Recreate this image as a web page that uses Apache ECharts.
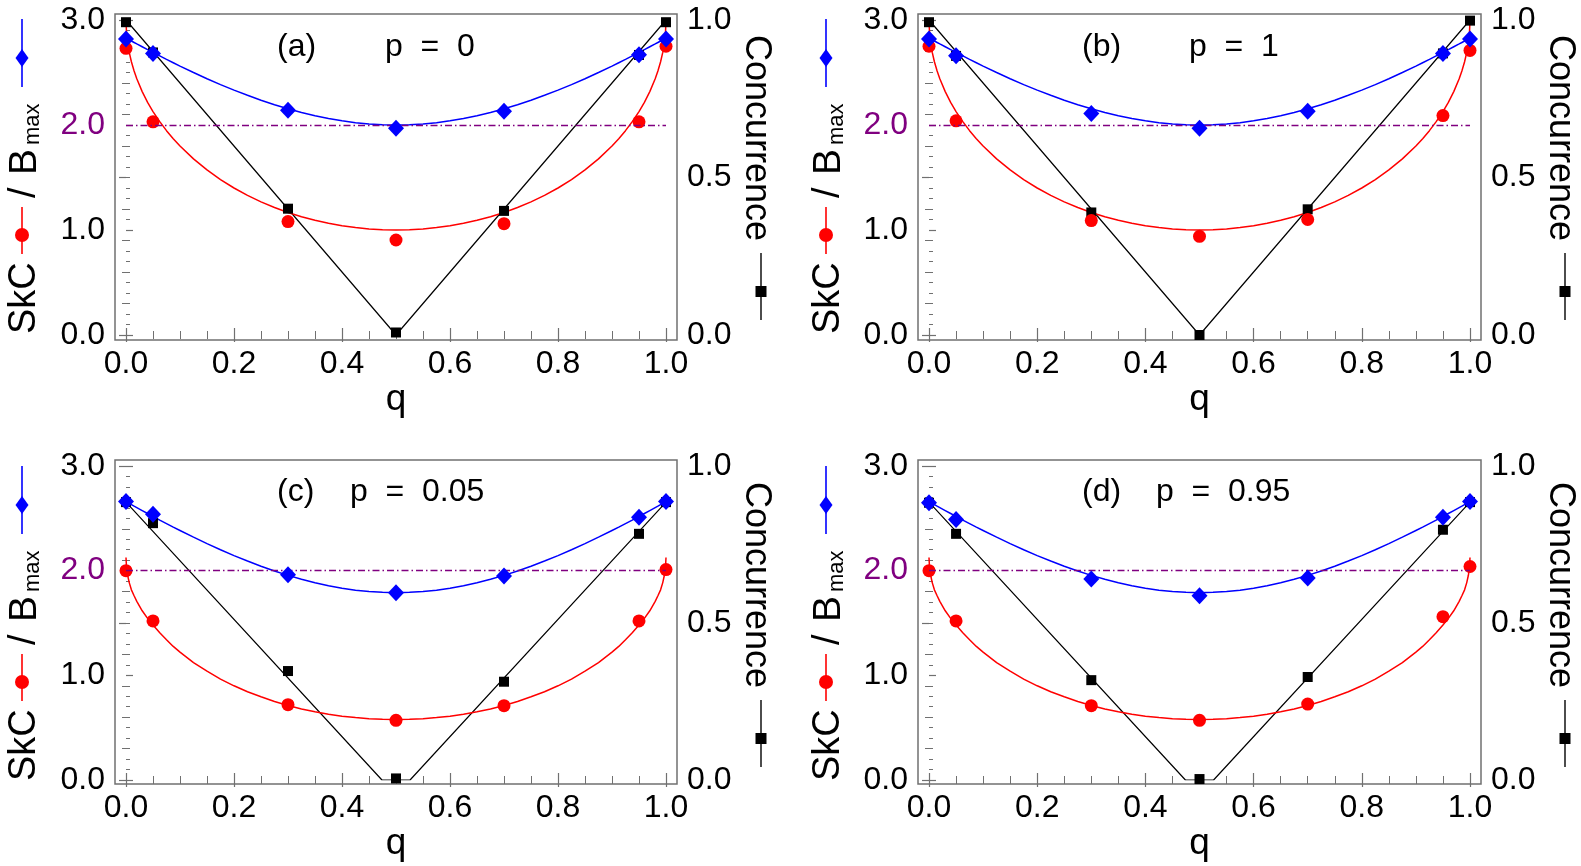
<!DOCTYPE html>
<html>
<head>
<meta charset="utf-8">
<script src="https://cdn.jsdelivr.net/npm/echarts@6/dist/echarts.min.js"></script>
<style>
  html, body { margin: 0; padding: 0; background: #fff; }
  #chart { width: 1581px; height: 866px; }
</style>
</head>
<body>
<div id="chart"></div>
<script>
// q of the measured points
const qData = [0, 0.05, 0.3, 0.5, 0.7, 0.95, 1]

// measured points, panels a..d
const bmaxA = [2.82, 2.68, 2.14, 1.97, 2.13, 2.67, 2.82]
const skcA = [2.73, 2.03, 1.08, 0.905, 1.06, 2.03, 2.75]
const concA = [0.993, 0.897, 0.401, 0.008, 0.394, 0.889, 0.993]

const bmaxB = [2.82, 2.66, 2.11, 1.97, 2.13, 2.68, 2.82]
const skcB = [2.75, 2.04, 1.09, 0.94, 1.1, 2.09, 2.71]
const concB = [0.993, 0.886, 0.389, 0.0, 0.399, 0.894, 0.998]

const bmaxC = [2.66, 2.54, 1.96, 1.79, 1.95, 2.51, 2.66]
const skcC = [2.0, 1.52, 0.72, 0.57, 0.71, 1.52, 2.01]
const concC = [0.885, 0.818, 0.347, 0.005, 0.313, 0.784, 0.885]

const bmaxD = [2.65, 2.49, 1.92, 1.76, 1.93, 2.51, 2.66]
const skcD = [2.0, 1.52, 0.71, 0.57, 0.725, 1.56, 2.04]
const concD = [0.883, 0.784, 0.318, 0.003, 0.328, 0.797, 0.885]

// theory curves (symmetric about q = 0.5)
const qTheory = [0, 0.001, 0.003, 0.006, 0.01, 0.015, 0.02, 0.03, 0.04, 0.05, 0.0625, 0.075, 0.0875, 0.1,
  0.125, 0.15, 0.175, 0.2, 0.225, 0.25, 0.275, 0.3, 0.325, 0.35, 0.375, 0.4, 0.425, 0.45, 0.475, 0.5,
  0.525, 0.55, 0.575, 0.6, 0.625, 0.65, 0.675, 0.7, 0.725, 0.75, 0.775, 0.8, 0.825, 0.85, 0.875, 0.9,
  0.9125, 0.925, 0.9375, 0.95, 0.96, 0.97, 0.98, 0.985, 0.99, 0.994, 0.997, 0.999, 1]
const bmaxTheoryAB = [2.828, 2.826, 2.82, 2.812, 2.8, 2.786, 2.772, 2.745, 2.718, 2.691, 2.658, 2.625, 2.593, 2.561,
  2.5, 2.441, 2.385, 2.332, 2.283, 2.236, 2.193, 2.154, 2.119, 2.088, 2.062, 2.04, 2.022, 2.01, 2.002, 2.0,
  2.002, 2.01, 2.022, 2.04, 2.062, 2.088, 2.119, 2.154, 2.193, 2.236, 2.283, 2.332, 2.385, 2.441, 2.5, 2.561,
  2.593, 2.625, 2.658, 2.691, 2.718, 2.745, 2.772, 2.786, 2.8, 2.812, 2.82, 2.826, 2.828]
const skcTheoryAB = [3.0, 2.874, 2.781, 2.691, 2.602, 2.514, 2.44, 2.318, 2.216, 2.128, 2.032, 1.946, 1.87, 1.8,
  1.677, 1.572, 1.48, 1.4, 1.33, 1.268, 1.214, 1.167, 1.126, 1.092, 1.064, 1.04, 1.023, 1.01, 1.003, 1.0,
  1.003, 1.01, 1.023, 1.04, 1.064, 1.092, 1.126, 1.167, 1.214, 1.268, 1.33, 1.4, 1.48, 1.572, 1.677, 1.8,
  1.87, 1.946, 2.032, 2.128, 2.216, 2.318, 2.44, 2.514, 2.602, 2.691, 2.781, 2.874, 3.0]
const bmaxTheoryCD = [2.66, 2.657, 2.651, 2.642, 2.631, 2.616, 2.602, 2.574, 2.546, 2.518, 2.483, 2.45, 2.416, 2.384,
  2.32, 2.258, 2.2, 2.144, 2.092, 2.042, 1.997, 1.955, 1.918, 1.885, 1.856, 1.833, 1.814, 1.801, 1.793, 1.79,
  1.793, 1.801, 1.814, 1.833, 1.856, 1.885, 1.918, 1.955, 1.997, 2.042, 2.092, 2.144, 2.2, 2.258, 2.32, 2.384,
  2.416, 2.45, 2.483, 2.518, 2.546, 2.574, 2.602, 2.616, 2.631, 2.642, 2.651, 2.657, 2.66]
const skcTheoryCD = [2.125, 2.027, 1.956, 1.886, 1.817, 1.76, 1.707, 1.617, 1.544, 1.481, 1.406, 1.34, 1.276, 1.222,
  1.122, 1.04, 0.964, 0.9, 0.843, 0.795, 0.75, 0.712, 0.679, 0.652, 0.628, 0.61, 0.596, 0.586, 0.58, 0.578,
  0.58, 0.586, 0.596, 0.61, 0.628, 0.652, 0.679, 0.712, 0.75, 0.795, 0.843, 0.9, 0.964, 1.04, 1.122, 1.222,
  1.276, 1.34, 1.406, 1.481, 1.544, 1.617, 1.707, 1.76, 1.817, 1.886, 1.956, 2.027, 2.125]
const concLineQAB = [0, 0.5, 1]
const concLineAB = [1, 0, 1]
const concLineQCD = [0, 0.474, 0.526, 1]
const concLineCD = [0.885, 0, 0, 0.885]

const bellLevel = 2  // dash-dot line

const leftTicks = ['0.0', '1.0', '2.0', '3.0']
const panelLetters = ['(a)', '(b)', '(c)', '(d)']
const panelP = ['p  =  0', 'p  =  1', 'p  =  0.05', 'p  =  0.95']

const panels = [
  { bmax: bmaxA, skc: skcA, conc: concA, bmaxT: bmaxTheoryAB, skcT: skcTheoryAB, cq: concLineQAB, ct: concLineAB },
  { bmax: bmaxB, skc: skcB, conc: concB, bmaxT: bmaxTheoryAB, skcT: skcTheoryAB, cq: concLineQAB, ct: concLineAB },
  { bmax: bmaxC, skc: skcC, conc: concC, bmaxT: bmaxTheoryCD, skcT: skcTheoryCD, cq: concLineQCD, ct: concLineCD },
  { bmax: bmaxD, skc: skcD, conc: concD, bmaxT: bmaxTheoryCD, skcT: skcTheoryCD, cq: concLineQCD, ct: concLineCD }
]

// layout (pixels): data box and frame box of each panel
const boxes = [
  { x0: 126, x1: 666, y3: 20, y0: 335, fl: 115, fr: 677, ft: 14, fb: 340, dx: 0, dy: 0, tx: 277, px: 385, ty: 47 },
  { x0: 929, x1: 1470, y3: 20, y0: 335, fl: 918, fr: 1481, ft: 14, fb: 340, dx: 804, dy: 0, tx: 1082, px: 1189, ty: 47 },
  { x0: 126, x1: 666, y3: 466, y0: 780, fl: 115, fr: 677, ft: 460, fb: 784, dx: 0, dy: 447, tx: 277, px: 350, ty: 492 },
  { x0: 929, x1: 1470, y3: 466, y0: 780, fl: 918, fr: 1481, ft: 460, fb: 784, dx: 804, dy: 447, tx: 1082, px: 1156, ty: 492 }
]

const font = 'Liberation Sans, Arial, sans-serif'
const frameColor = '#707070'
const blue = '#0000ff'
const red = '#ff0000'
const purple = '#800080'

const grids = []
const xAxes = []
const yAxes = []
const series = []
const graphics = []

const pairs = (xs, ys) => xs.map((x, k) => [x, ys[k]])

const tickStyle = { inside: true, length: 7, lineStyle: { color: frameColor, width: 1.2 } }
const minorStyle = { color: frameColor, width: 1 }
const labelStyle = { fontSize: 32, color: '#000', fontFamily: font }

boxes.forEach((b, i) => {
  grids.push({ left: b.x0, top: b.y3, width: b.x1 - b.x0, height: b.y0 - b.y3 })

  xAxes.push({
    gridIndex: i, type: 'value', position: 'bottom', offset: b.fb - b.y0,
    min: 0, max: 1, interval: 0.2,
    axisLine: { show: false },
    axisTick: tickStyle,
    minorTick: { show: true, splitNumber: 4, length: 4, lineStyle: minorStyle },
    splitLine: { show: false },
    axisLabel: Object.assign({ margin: 8, formatter: v => v.toFixed(1) }, labelStyle),
    name: 'q', nameLocation: 'middle', nameGap: 30,
    nameTextStyle: { fontSize: 37, color: '#000', fontFamily: font }
  })
  xAxes.push({
    gridIndex: i, type: 'value', position: 'top', offset: b.y3 - b.ft,
    min: 0, max: 1, interval: 0.2,
    axisLine: { show: false },
    axisTick: tickStyle,
    minorTick: { show: true, splitNumber: 4, length: 4, lineStyle: minorStyle },
    splitLine: { show: false },
    axisLabel: { show: false }
  })
  yAxes.push({
    gridIndex: i, type: 'value', position: 'left', offset: b.x0 - b.fl,
    min: 0, max: 3, interval: 1,
    axisLine: { show: false },
    axisTick: tickStyle,
    minorTick: { show: true, splitNumber: 10, length: 4, lineStyle: minorStyle },
    splitLine: { show: false },
    axisLabel: Object.assign({
      margin: 10,
      formatter: v => {
        const s = leftTicks[Math.round(v)]
        return v === bellLevel ? '{p|' + s + '}' : s
      },
      rich: { p: { color: purple, fontSize: 32, fontFamily: font } }
    }, labelStyle)
  })
  yAxes.push({
    gridIndex: i, type: 'value', position: 'right', offset: b.fr - b.x1,
    min: 0, max: 1, interval: 0.5,
    axisLine: { show: false },
    axisTick: tickStyle,
    minorTick: { show: true, splitNumber: 5, length: 4, lineStyle: minorStyle },
    splitLine: { show: false },
    axisLabel: Object.assign({ margin: 10, formatter: v => v.toFixed(1) }, labelStyle)
  })
})

// frames
boxes.forEach((b, i) => {
  grids.push({
    show: true, left: b.fl, top: b.ft, width: b.fr - b.fl, height: b.fb - b.ft,
    borderColor: frameColor, borderWidth: 1.5, backgroundColor: 'transparent'
  })
  xAxes.push({ gridIndex: 4 + i, type: 'value', show: false })
  yAxes.push({ gridIndex: 4 + i, type: 'value', show: false })
})

panels.forEach((p, i) => {
  const xi = 2 * i
  const yl = 2 * i
  const yr = 2 * i + 1
  series.push({
    type: 'line', xAxisIndex: xi, yAxisIndex: yr, data: pairs(p.cq, p.ct),
    symbol: 'none', lineStyle: { color: '#000', width: 1.2 }, z: 2
  })
  series.push({
    type: 'line', xAxisIndex: xi, yAxisIndex: yl, data: pairs(qTheory, p.skcT),
    symbol: 'none', lineStyle: { color: red, width: 1.5 }, z: 2
  })
  series.push({
    type: 'line', xAxisIndex: xi, yAxisIndex: yl, data: pairs(qTheory, p.bmaxT),
    symbol: 'none', lineStyle: { color: blue, width: 1.5 }, z: 2,
    markLine: {
      silent: true, symbol: 'none', label: { show: false },
      lineStyle: { color: purple, type: [7, 3, 1.5, 3], width: 1.4 },
      data: [{ yAxis: bellLevel }]
    }
  })
  series.push({
    type: 'scatter', xAxisIndex: xi, yAxisIndex: yr, data: pairs(qData, p.conc),
    symbol: 'rect', symbolSize: 10, itemStyle: { color: '#000', opacity: 1 }, z: 3
  })
  series.push({
    type: 'scatter', xAxisIndex: xi, yAxisIndex: yl, data: pairs(qData, p.skc),
    symbol: 'circle', symbolSize: 13, itemStyle: { color: red, opacity: 1 }, z: 4
  })
  series.push({
    type: 'scatter', xAxisIndex: xi, yAxisIndex: yl, data: pairs(qData, p.bmax),
    symbol: 'diamond', symbolSize: [16, 17], itemStyle: { color: blue, opacity: 1 }, z: 5
  })
})

// axis titles with their line-and-marker keys, and panel captions
const txt = (x, y, text, size, extra) => ({
  type: 'text', x: x, y: y,
  style: Object.assign({ text: text, fontSize: size, fontFamily: font, fill: '#000', align: 'left', verticalAlign: 'middle' }, extra || {})
})

boxes.forEach((b, i) => {
  graphics.push({
    type: 'group', x: 25 + b.dx, y: 334 + b.dy, rotation: Math.PI / 2,
    children: [
      txt(0, 0, 'SkC', 38),
      { type: 'line', shape: { x1: 80, y1: -3, x2: 127, y2: -3 }, style: { stroke: red, lineWidth: 1.6 } },
      { type: 'circle', shape: { cx: 99, cy: -3, r: 7 }, style: { fill: red } },
      txt(136, 0, '/', 38),
      txt(159, 0, 'B', 39),
      txt(189, 8, 'max', 22),
      { type: 'line', shape: { x1: 247, y1: -3, x2: 315, y2: -3 }, style: { stroke: blue, lineWidth: 1.6 } },
      { type: 'polygon', shape: { points: [[267, -3], [276, -9.5], [285, -3], [276, 3.5]] }, style: { fill: blue } }
    ]
  })
  graphics.push({
    type: 'group', x: 756 + b.dx, y: 35 + b.dy, rotation: -Math.PI / 2,
    children: [
      txt(0, 0, 'Concurrence', 36),
      { type: 'line', shape: { x1: 218, y1: -5, x2: 285, y2: -5 }, style: { stroke: '#000', lineWidth: 1.4 } },
      { type: 'rect', shape: { x: 251, y: -10.5, width: 11, height: 11 }, style: { fill: '#000' } }
    ]
  })
  graphics.push(txt(b.tx, b.ty, panelLetters[i], 32))
  graphics.push(txt(b.px, b.ty, panelP[i], 32))
})

const option = {
  animation: false,
  backgroundColor: '#fff',
  grid: grids,
  xAxis: xAxes,
  yAxis: yAxes,
  series: series,
  graphic: graphics
}

const myChart = echarts.init(document.getElementById('chart'))
myChart.setOption(option)
</script>
</body>
</html>
